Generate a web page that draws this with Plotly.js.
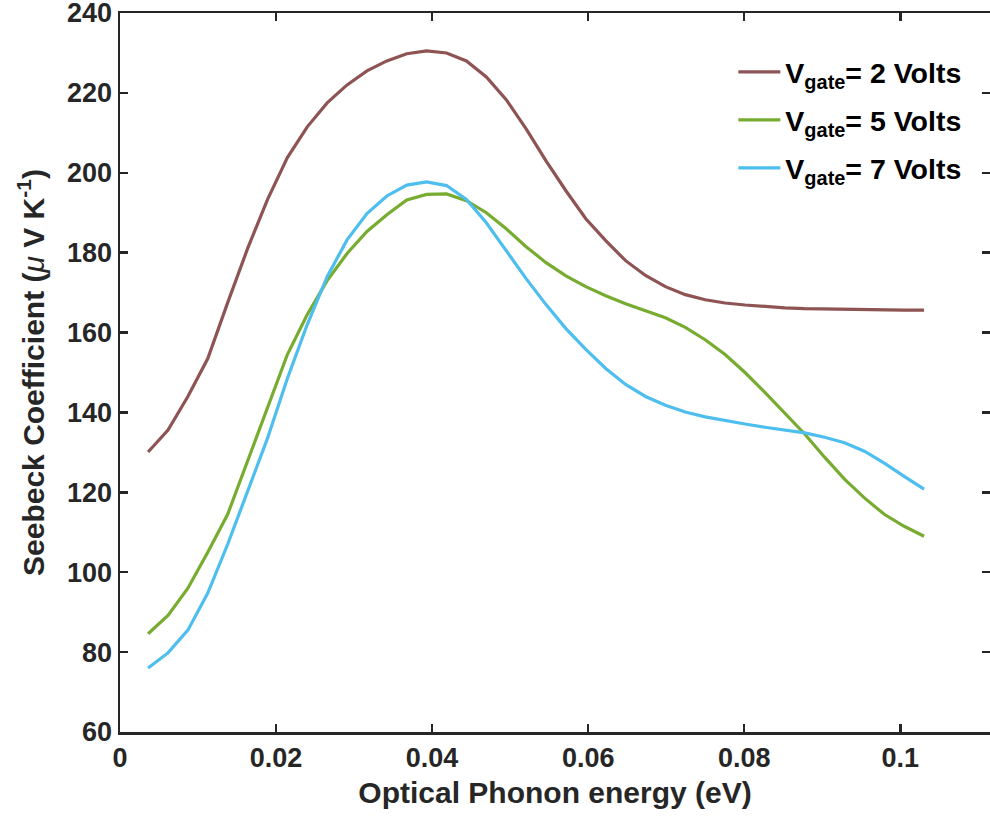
<!DOCTYPE html>
<html>
<head>
<meta charset="utf-8">
<script src="https://cdn.plot.ly/plotly-3.0.1.min.js"></script>
<style>html,body{margin:0;padding:0;background:#fff;overflow:hidden}#chart{width:990px;height:817px}</style>
</head>
<body>
<div id="chart"></div>
<script>
const energy = [0.0036, 0.00615, 0.0087, 0.01125, 0.0138, 0.01635, 0.0189, 0.02145, 0.024, 0.02655,
  0.0291, 0.03165, 0.0342, 0.03675, 0.0393, 0.04185, 0.0444, 0.04695, 0.0495, 0.05205,
  0.0546, 0.05715, 0.0597, 0.06225, 0.0648, 0.06735, 0.0699, 0.07245, 0.075, 0.07755,
  0.0801, 0.08265, 0.0852, 0.08775, 0.0903, 0.09285, 0.0954, 0.09795, 0.1005, 0.10305];

const seebeck2V = [130.1, 135.6, 144, 153.5, 167.5, 181, 193.3, 203.8, 211.5, 217.5,
  222, 225.5, 228, 229.8, 230.5, 230, 228, 224, 218.3, 211,
  203, 195.5, 188.5, 183, 178, 174.3, 171.5, 169.5, 168.2, 167.4,
  166.9, 166.5, 166.2, 166, 165.9, 165.8, 165.7, 165.6, 165.6, 165.6];

const seebeck5V = [84.6, 89.2, 96, 105, 114.5, 127.8, 141.5, 154.5, 164.5, 173,
  179.8, 185.3, 189.5, 193.2, 194.6, 194.7, 193, 190, 186, 181.5,
  177.5, 174.2, 171.5, 169.2, 167.2, 165.5, 163.7, 161.3, 158.2, 154.5,
  150, 145, 139.8, 134.6, 128.8, 123.3, 118.6, 114.5, 111.5, 109];

const seebeck7V = [76, 79.8, 85.5, 94.8, 107, 120, 133.5, 148.5, 162, 174,
  183.2, 189.8, 194.2, 196.9, 197.7, 196.8, 193.3, 187.5, 180.5, 173.5,
  167, 161, 155.8, 151, 147, 144, 141.8, 140.1, 138.9, 137.9,
  137.1, 136.3, 135.6, 134.9, 133.8, 132.4, 130.3, 127.3, 124, 120.8];

const seriesNames = ['V<sub>gate</sub>= 2 Volts', 'V<sub>gate</sub>= 5 Volts', 'V<sub>gate</sub>= 7 Volts'];
const seriesColors = ['#8e5353', '#77ac30', '#4dbeee'];
const xTicks = [0, 0.02, 0.04, 0.06, 0.08, 0.1];
const yTicks = [60, 80, 100, 120, 140, 160, 180, 200, 220, 240];

const ink = '#262626';
const fam = '"Liberation Sans", Arial, sans-serif';
const series = [seebeck2V, seebeck5V, seebeck7V];
const traces = series.map((ys, i) => ({
  x: energy, y: ys, type: 'scatter', mode: 'lines',
  name: seriesNames[i], legendgroup: 'g' + i,
  line: {color: seriesColors[i], width: 3.2},
  xaxis: 'x', yaxis: 'y'
}));
// invisible helper trace for right-side mirrored ticks
traces.push({x: [energy[0]], y: [seebeck2V[0]], type: 'scatter', mode: 'markers',
  marker: {opacity: 0}, showlegend: false, hoverinfo: 'skip', xaxis: 'x', yaxis: 'y2'});

const yRange = [59.999, 240.001];

const layout = {
  width: 990, height: 817,
  margin: {l: 120, r: 0, t: 13, b: 85},
  paper_bgcolor: '#fff', plot_bgcolor: '#fff',
  font: {family: fam, color: ink, size: 27, weight: 'bold'},
  showlegend: true,
  legend: {x: 0.705, y: 0.953, xanchor: 'left', yanchor: 'top', bgcolor: 'rgba(0,0,0,0)',
    font: {family: fam, size: 28.5, color: '#000', weight: 'bold'}, tracegroupgap: 8, itemwidth: 42},
  xaxis: {
    range: [0, 0.1115], tickvals: xTicks, ticktext: xTicks.map(String),
    showline: true, linecolor: ink, linewidth: 2.5, mirror: 'ticks',
    ticks: 'inside', ticklen: 8, tickwidth: 2.5, tickcolor: ink,
    showgrid: false, zeroline: false, ticklabeloverflow: 'allow',
    tickfont: {family: fam, size: 27, color: ink, weight: 'bold'},
    title: {text: 'Optical Phonon energy (eV)', font: {family: fam, size: 30, color: ink, weight: 'bold'}, standoff: 10}
  },
  yaxis: {
    range: yRange, tickvals: yTicks,
    showline: true, linecolor: ink, linewidth: 2.5,
    ticks: 'inside', ticklen: 8, tickwidth: 2.5, tickcolor: ink,
    showgrid: false, zeroline: false, ticklabeloverflow: 'allow',
    tickfont: {family: fam, size: 27, color: ink, weight: 'bold'},
    title: {text: 'Seebeck Coefficient (<span style="font-weight:normal"><i>μ</i></span> V K<sup>-1</sup>)', font: {family: fam, size: 30, color: ink, weight: 'bold'}, standoff: 14}
  },
  yaxis2: {
    overlaying: 'y', side: 'right', anchor: 'x', range: yRange, tickvals: yTicks,
    showticklabels: false, showline: false, showgrid: false, zeroline: false,
    ticks: 'inside', ticklen: 8, tickwidth: 2.5, tickcolor: ink
  }
};

Plotly.newPlot('chart', traces, layout, {displayModeBar: false, staticPlot: true});
</script>
</body>
</html>
